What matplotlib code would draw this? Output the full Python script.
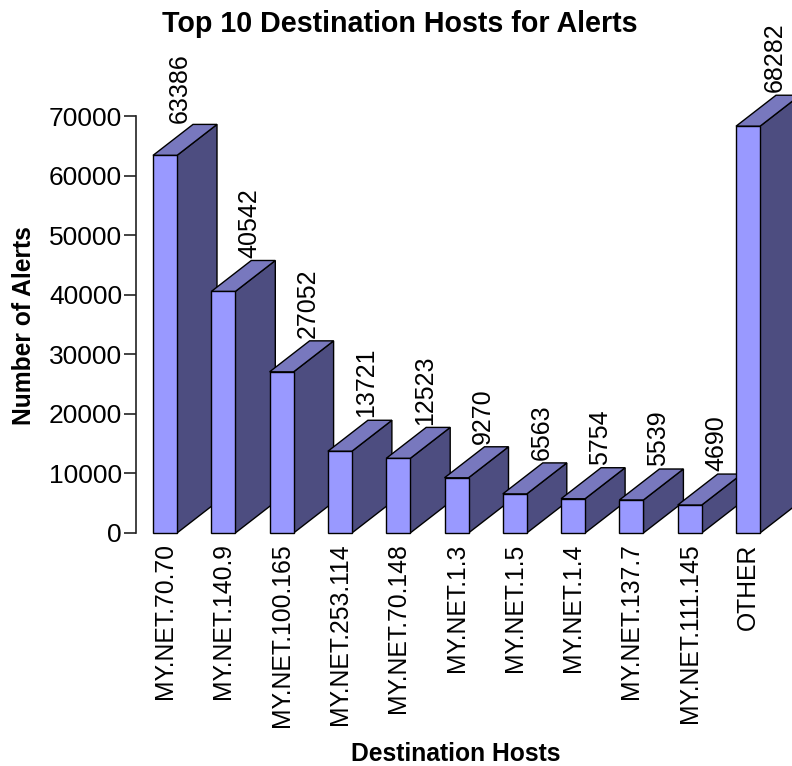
import matplotlib
matplotlib.use("Agg")
import matplotlib.pyplot as plt
from matplotlib.patches import Polygon

plt.rcParams['font.family'] = ['Liberation Sans', 'DejaVu Sans']

hosts = ["MY.NET.70.70", "MY.NET.140.9", "MY.NET.100.165", "MY.NET.253.114",
         "MY.NET.70.148", "MY.NET.1.3", "MY.NET.1.5", "MY.NET.1.4",
         "MY.NET.137.7", "MY.NET.111.145", "OTHER"]
alerts = [63386, 40542, 27052, 13721, 12523, 9270, 6563, 5754, 5539, 4690, 68282]
yticks = [0, 10000, 20000, 30000, 40000, 50000, 60000, 70000]

W, H = 792, 766
fig = plt.figure(figsize=(W / 100, H / 100), dpi=100, facecolor='white')
L, R, T, B = 136, 792, 116, 533
ax = fig.add_axes([L / W, 1 - B / H, (R - L) / W, (B - T) / H])

slot = 58.3
first_center = (165 - L) / slot
ax.set_xlim(-first_center, (R - L) / slot - first_center)
ax.set_ylim(0, 70000)

bar_w = 24 / slot
dx = 40 / slot
dy = 31 * 70000 / (B - T)

FRONT, SIDE, TOP = '#9999FF', '#4D4D80', '#7878BE'
kw = dict(edgecolor='black', linewidth=1.0, joinstyle='miter')
for i, v in enumerate(alerts):
    x0, x1 = i - bar_w / 2, i + bar_w / 2
    z = 2 + i
    ax.add_patch(Polygon([(x1, 0), (x1 + dx, dy), (x1 + dx, v + dy), (x1, v)],
                         facecolor=SIDE, zorder=z, **kw))
    ax.add_patch(Polygon([(x0, v), (x0 + dx, v + dy), (x1 + dx, v + dy), (x1, v)],
                         facecolor=TOP, zorder=z, **kw))
    ax.add_patch(Polygon([(x0, 0), (x0, v), (x1, v), (x1, 0)],
                         facecolor=FRONT, zorder=z, **kw))
    for p in ax.patches[-3:]:
        p.set_clip_on(False)
    shift = 14.5 if i == 0 else 26.5
    ax.annotate(str(v), xy=(i, v + dy), xytext=(shift * 0.72, 1.2 if i == 0 else 2.0),
                textcoords='offset points', rotation=90, ha='center', va='bottom',
                fontsize=18, color='black', zorder=30, annotation_clip=False)

for s in ('top', 'right', 'bottom'):
    ax.spines[s].set_visible(False)
ax.spines['left'].set_color('#222222')
ax.spines['left'].set_linewidth(1.2)
ax.set_yticks(yticks)
ax.tick_params(axis='y', length=9, width=1.2, color='#222222', labelsize=19, pad=1)
ax.set_xticks(range(len(hosts)))
ax.set_xticklabels(hosts, rotation=90, fontsize=17.8)
ax.tick_params(axis='x', length=0, pad=7.5)
ax.patch.set_alpha(0)

fig.text(400 / W, 1 - 24 / H, "Top 10 Destination Hosts for Alerts", ha='center', va='center',
         fontsize=20.6, fontweight='bold')
fig.text(456 / W, 1 - 754 / H, "Destination Hosts", ha='center', va='center',
         fontsize=17.7, fontweight='bold')
fig.text(24 / W, 1 - 326 / H, "Number of Alerts", ha='center', va='center', rotation=90,
         fontsize=17.7, fontweight='bold')

fig.savefig('out.png', dpi=100)
